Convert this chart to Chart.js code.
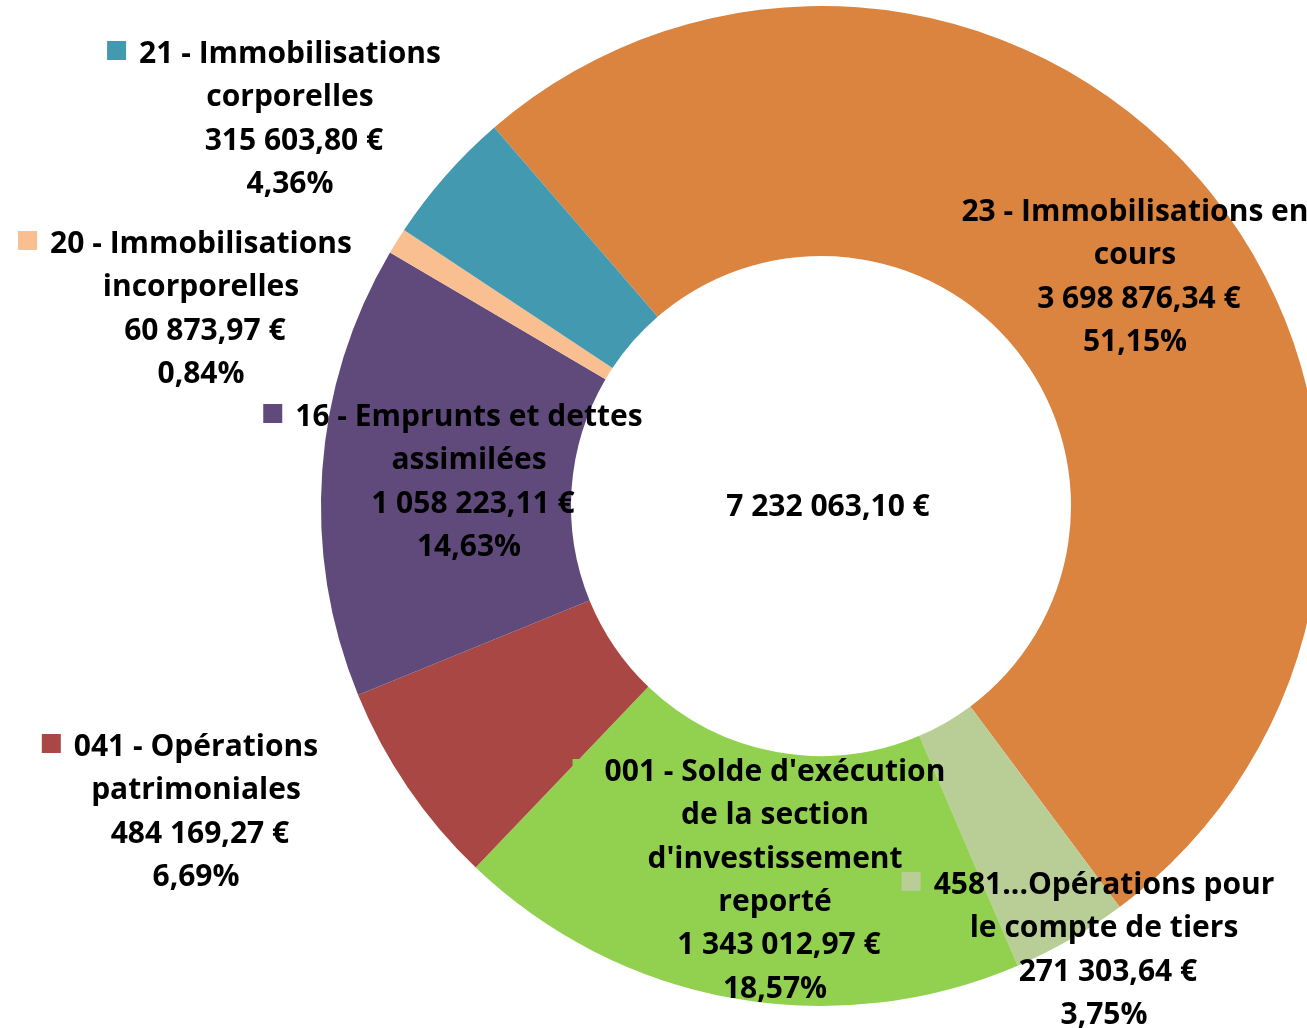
<!DOCTYPE html>
<html><head><meta charset="utf-8">
<script src="https://cdn.jsdelivr.net/npm/chart.js@4"></script>
<style>html,body{margin:0;padding:0;overflow:hidden;background:#fff;width:1307px;height:1028px}canvas{display:block}</style>
</head><body>
<canvas id="c" width="1400" height="1028"></canvas>
<script>
// ---- data (clockwise order, starting with the large orange slice) ----
const categories = [
  "23 - Immobilisations en cours",
  "4581...Opérations pour le compte de tiers",
  "001 - Solde d'exécution de la section d'investissement reporté",
  "041 - Opérations patrimoniales",
  "16 - Emprunts et dettes assimilées",
  "20 - Immobilisations incorporelles",
  "21 - Immobilisations corporelles"
];
const categoryLines = [
  ["23 - Immobilisations en", "cours"],
  ["4581...Opérations pour", "le compte de tiers"],
  ["001 - Solde d'exécution", "de la section", "d'investissement", "reporté"],
  ["041 - Opérations", "patrimoniales"],
  ["16 - Emprunts et dettes", "assimilées"],
  ["20 - Immobilisations", "incorporelles"],
  ["21 - Immobilisations", "corporelles"]
];
const amounts = [3698876.34, 271303.64, 1343012.97, 484169.27, 1058223.11, 60873.97, 315603.80];
const colors = ["#DA843F", "#B9CD97", "#92D050", "#A94744", "#604A7B", "#F9BF90", "#4399B0"];

// ---- label placement (text centre x, first-line baseline y) ----
const labelLayout = [
  {x: 1135, y: 221},
  {x: 1104, y: 894},
  {x: 775,  y: 781},
  {x: 196,  y: 756},
  {x: 469,  y: 426},
  {x: 201,  y: 253},
  {x: 290,  y: 63}
];
const centerLayout = {x: 828, y: 516};

function fmtEuro(v) {
  const parts = v.toFixed(2).split(".");
  const intPart = parts[0].replace(/\B(?=(\d{3})+(?!\d))/g, " ");
  return intPart + "," + parts[1] + " €";
}
const total = amounts.reduce((a, b) => a + b, 0);
function fmtPct(v) { return (v / total * 100).toFixed(2).replace(".", ",") + "%"; }

const FONT = "bold 30px 'Open Sans'";
const LINE = 43.3;

const labelPlugin = {
  id: "labels",
  afterDraw(chart) {
    const ctx = chart.ctx;
    ctx.save();
    ctx.font = FONT;
    ctx.fillStyle = "#000";
    ctx.textAlign = "center";
    ctx.textBaseline = "alphabetic";
    categoryLines.forEach((nameLines, i) => {
      const L = labelLayout[i];
      const lines = nameLines.concat([" " + fmtEuro(amounts[i]), fmtPct(amounts[i])]);
      const w0 = ctx.measureText(lines[0]).width;
      ctx.fillStyle = colors[i];
      ctx.fillRect(L.x - w0 / 2 - 13 - 19, L.y - 22, 19, 19);
      ctx.fillStyle = "#000";
      lines.forEach((t, k) => ctx.fillText(t, L.x, L.y + k * LINE));
    });
    ctx.fillText(fmtEuro(total), centerLayout.x, centerLayout.y);
    ctx.restore();
  }
};

new Chart(document.getElementById("c"), {
  type: "doughnut",
  data: {
    labels: categories,
    datasets: [{
      data: amounts,
      backgroundColor: colors,
      borderWidth: 0,
      hoverOffset: 0,
      offset: 0
    }]
  },
  options: {
    responsive: false,
    animation: false,
    cutout: "50%",
    rotation: -40.8,
    layout: {padding: {left: 321, right: 79, top: 6, bottom: 22}},
    plugins: {legend: {display: false}, tooltip: {enabled: false}}
  },
  plugins: [labelPlugin]
});
</script>
</body></html>
